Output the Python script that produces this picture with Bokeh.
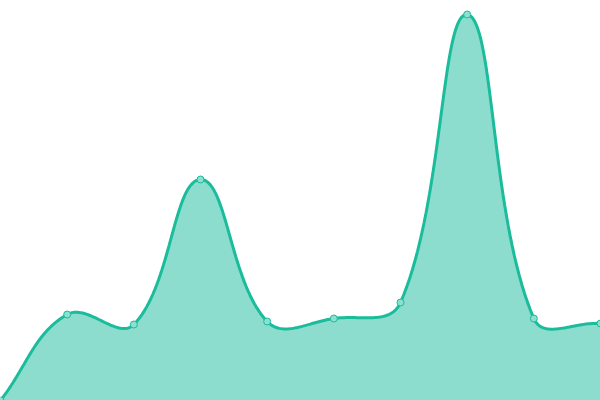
import numpy as np
from jinja2 import Template
from bokeh.plotting import figure
from bokeh.models import Range1d
from bokeh.embed import file_html
from bokeh.resources import INLINE

# data
categories = list(range(10))
values = [0, 86, 76, 221, 79, 82, 98, 386, 82, 77]

W, H = 600, 400
X0, X1 = 0, 9
Y0, Y1 = 0, 400
TENSION = 0.4


def spline(xs, ys, n=40):
    # cubic bezier spline (Chart.js style) computed in screen space
    px = [(x - X0) / (X1 - X0) * W for x in xs]
    py = [(y - Y0) / (Y1 - Y0) * H for y in ys]
    pts = list(zip(px, py))
    cps = []
    for i, cur in enumerate(pts):
        prev = pts[i - 1] if i > 0 else cur
        nxt = pts[i + 1] if i < len(pts) - 1 else cur
        d01 = np.hypot(cur[0] - prev[0], cur[1] - prev[1])
        d12 = np.hypot(nxt[0] - cur[0], nxt[1] - cur[1])
        tot = d01 + d12
        s01 = d01 / tot if tot else 0
        s12 = d12 / tot if tot else 0
        fa, fb = TENSION * s01, TENSION * s12
        cpp = (cur[0] - fa * (nxt[0] - prev[0]), cur[1] - fa * (nxt[1] - prev[1]))
        cpn = (cur[0] + fb * (nxt[0] - prev[0]), cur[1] + fb * (nxt[1] - prev[1]))
        cps.append((cpp, cpn))
    outx, outy = [], []
    t = np.linspace(0, 1, n)
    for i in range(len(pts) - 1):
        p0 = pts[i]
        p1 = cps[i][1]
        p2 = cps[i + 1][0]
        p3 = pts[i + 1]
        bx = (1 - t) ** 3 * p0[0] + 3 * (1 - t) ** 2 * t * p1[0] + 3 * (1 - t) * t ** 2 * p2[0] + t ** 3 * p3[0]
        by = (1 - t) ** 3 * p0[1] + 3 * (1 - t) ** 2 * t * p1[1] + 3 * (1 - t) * t ** 2 * p2[1] + t ** 3 * p3[1]
        if i > 0:
            bx, by = bx[1:], by[1:]
        outx.extend(bx)
        outy.extend(by)
    ox = [X0 + v / W * (X1 - X0) for v in outx]
    oy = [Y0 + v / H * (Y1 - Y0) for v in outy]
    return ox, oy


sx, sy = spline(categories, values)

p = figure(width=W, height=H, output_backend="svg", toolbar_location=None,
           x_range=Range1d(X0, X1), y_range=Range1d(Y0, Y1),
           min_border=0, min_border_left=0, min_border_right=0,
           min_border_top=0, min_border_bottom=0)
p.axis.visible = False
p.grid.visible = False
p.outline_line_color = None
p.background_fill_color = "white"
p.border_fill_color = "white"

p.varea(x=sx, y1=[Y0] * len(sx), y2=sy, fill_color="#1abc9c", fill_alpha=0.5)
p.line(sx, sy, line_color="#1abc9c", line_width=3)
p.scatter(categories, values, size=7, fill_color="#8ce0cf", line_color="#1abc9c", line_width=1)

tmpl = Template("""<!DOCTYPE html>
<html lang="en">
<head>
<meta charset="utf-8">
<title>{{ title }}</title>
<style>html, body { margin: 0; padding: 0; overflow: hidden; }</style>
{{ bokeh_css }}
{{ bokeh_js }}
</head>
<body>
{{ plot_div }}
{{ plot_script }}
</body>
</html>""")

open("out.html", "w").write(file_html(p, INLINE, template=tmpl))
